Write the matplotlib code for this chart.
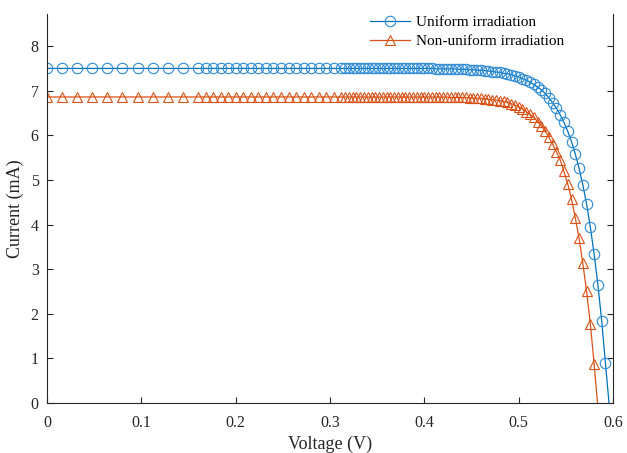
import matplotlib
matplotlib.use("Agg")
import matplotlib.pyplot as plt

plt.rcParams['font.family'] = ['Liberation Serif', 'DejaVu Serif']
plt.rcParams['mathtext.fontset'] = 'stix'

# sweep voltage (V): coarse start, then finer steps towards Voc
voltage = [
    0.000, 0.016, 0.032, 0.048, 0.064, 0.080, 0.096, 0.112, 0.128, 0.144,
    0.160, 0.168, 0.176, 0.184, 0.192, 0.200, 0.208, 0.216, 0.224, 0.232,
    0.240, 0.248, 0.256, 0.264, 0.272, 0.280, 0.288, 0.296, 0.304, 0.312,
    0.316, 0.320, 0.324, 0.328, 0.332, 0.336, 0.340, 0.344, 0.348, 0.352,
    0.356, 0.360, 0.364, 0.368, 0.372, 0.376, 0.380, 0.384, 0.388, 0.392,
    0.396, 0.400, 0.404, 0.408, 0.412, 0.416, 0.420, 0.424, 0.428, 0.432,
    0.436, 0.440, 0.444, 0.448, 0.452, 0.456, 0.460, 0.464, 0.468, 0.472,
    0.476, 0.480, 0.484, 0.488, 0.492, 0.496, 0.500, 0.504, 0.508, 0.512,
    0.516, 0.520, 0.524, 0.528, 0.532, 0.536, 0.540, 0.544, 0.548, 0.552,
    0.556, 0.560, 0.564, 0.568, 0.572, 0.576, 0.580, 0.584, 0.588, 0.592,
    0.596,
]

# current (mA), uniform irradiation
current_uniform = [
    7.50, 7.50, 7.50, 7.50, 7.50, 7.50, 7.50, 7.50, 7.50, 7.50,
    7.50, 7.50, 7.50, 7.50, 7.50, 7.50, 7.50, 7.50, 7.50, 7.50,
    7.50, 7.50, 7.50, 7.50, 7.50, 7.50, 7.50, 7.50, 7.50, 7.50,
    7.50, 7.50, 7.50, 7.50, 7.50, 7.50, 7.50, 7.50, 7.50, 7.50,
    7.50, 7.50, 7.50, 7.50, 7.50, 7.50, 7.50, 7.50, 7.50, 7.50,
    7.50, 7.50, 7.50, 7.50, 7.49, 7.49, 7.49, 7.49, 7.49, 7.49,
    7.48, 7.48, 7.48, 7.47, 7.47, 7.46, 7.46, 7.45, 7.44, 7.43,
    7.42, 7.41, 7.39, 7.38, 7.36, 7.33, 7.31, 7.27, 7.24, 7.19,
    7.14, 7.08, 7.02, 6.94, 6.84, 6.73, 6.61, 6.46, 6.29, 6.09,
    5.86, 5.58, 5.26, 4.89, 4.46, 3.94, 3.33, 2.65, 1.84, 0.89,
    -0.06,
]

# current (mA), non-uniform irradiation
current_nonuniform = [
    6.86, 6.86, 6.86, 6.86, 6.86, 6.86, 6.86, 6.86, 6.86, 6.86,
    6.86, 6.86, 6.86, 6.86, 6.86, 6.86, 6.86, 6.86, 6.86, 6.86,
    6.86, 6.86, 6.86, 6.86, 6.86, 6.86, 6.86, 6.86, 6.86, 6.86,
    6.86, 6.86, 6.86, 6.86, 6.86, 6.86, 6.86, 6.86, 6.86, 6.86,
    6.86, 6.86, 6.86, 6.86, 6.86, 6.86, 6.86, 6.86, 6.86, 6.86,
    6.86, 6.86, 6.86, 6.86, 6.86, 6.86, 6.86, 6.86, 6.85, 6.85,
    6.85, 6.85, 6.85, 6.84, 6.84, 6.83, 6.83, 6.82, 6.81, 6.80,
    6.79, 6.78, 6.76, 6.74, 6.71, 6.68, 6.64, 6.59, 6.53, 6.47,
    6.40, 6.31, 6.21, 6.10, 5.96, 5.80, 5.63, 5.45, 5.19, 4.91,
    4.57, 4.15, 3.69, 3.13, 2.50, 1.76, 0.87, -0.11,
]

BLUE = '#0072BD'
RED = '#D95319'

fig = plt.figure(figsize=(6.27, 4.53), dpi=100)
ax = fig.add_axes([0.075, 0.1104, 0.9027, 0.8587])

n_u = len(current_uniform)
n_n = len(current_nonuniform)

# last sample of each sweep is past Voc, so it gets no marker
ax.plot(voltage[:n_u], current_uniform, color=BLUE, lw=0.9,
        marker='o', markersize=7.5, markerfacecolor='none',
        markeredgewidth=0.8, markeredgecolor='#2E8BD6',
        markevery=list(range(n_u - 1)), label='Uniform irradiation')
ax.plot(voltage[:n_n], current_nonuniform, color=RED, lw=0.9,
        marker='^', markersize=7.5, markerfacecolor='none',
        markeredgewidth=0.8, markevery=list(range(n_n - 1)),
        label='Non-uniform irradiation')

ax.set_xlim(0, 0.6)
ax.set_ylim(0, 8.72)
ax.set_xticks([0, 0.1, 0.2, 0.3, 0.4, 0.5, 0.6])
ax.set_xticklabels(['0', '0.1', '0.2', '0.3', '0.4', '0.5', '0.6'])
ax.set_yticks(range(0, 9))

ax.spines['top'].set_visible(False)
for side in ('left', 'right', 'bottom'):
    ax.spines[side].set_color('#262626')
    ax.spines[side].set_linewidth(0.8)
ax.tick_params(axis='both', direction='in', length=4, width=0.8,
               colors='#262626', labelsize=11.5, right=True, top=False)
ax.tick_params(axis='x', pad=9)
ax.tick_params(axis='y', pad=6)

ax.set_xlabel('Voltage (V)', fontsize=13, color='#262626', labelpad=3)
ax.set_ylabel('Current (mA)', fontsize=13, color='#262626', labelpad=5)

leg = ax.legend(loc='upper right', bbox_to_anchor=(0.93, 1.02), frameon=False,
                fontsize=11, handlelength=2.6, handletextpad=0.4,
                labelspacing=0.35, borderaxespad=0.2)

fig.savefig('out.png', dpi=100)
